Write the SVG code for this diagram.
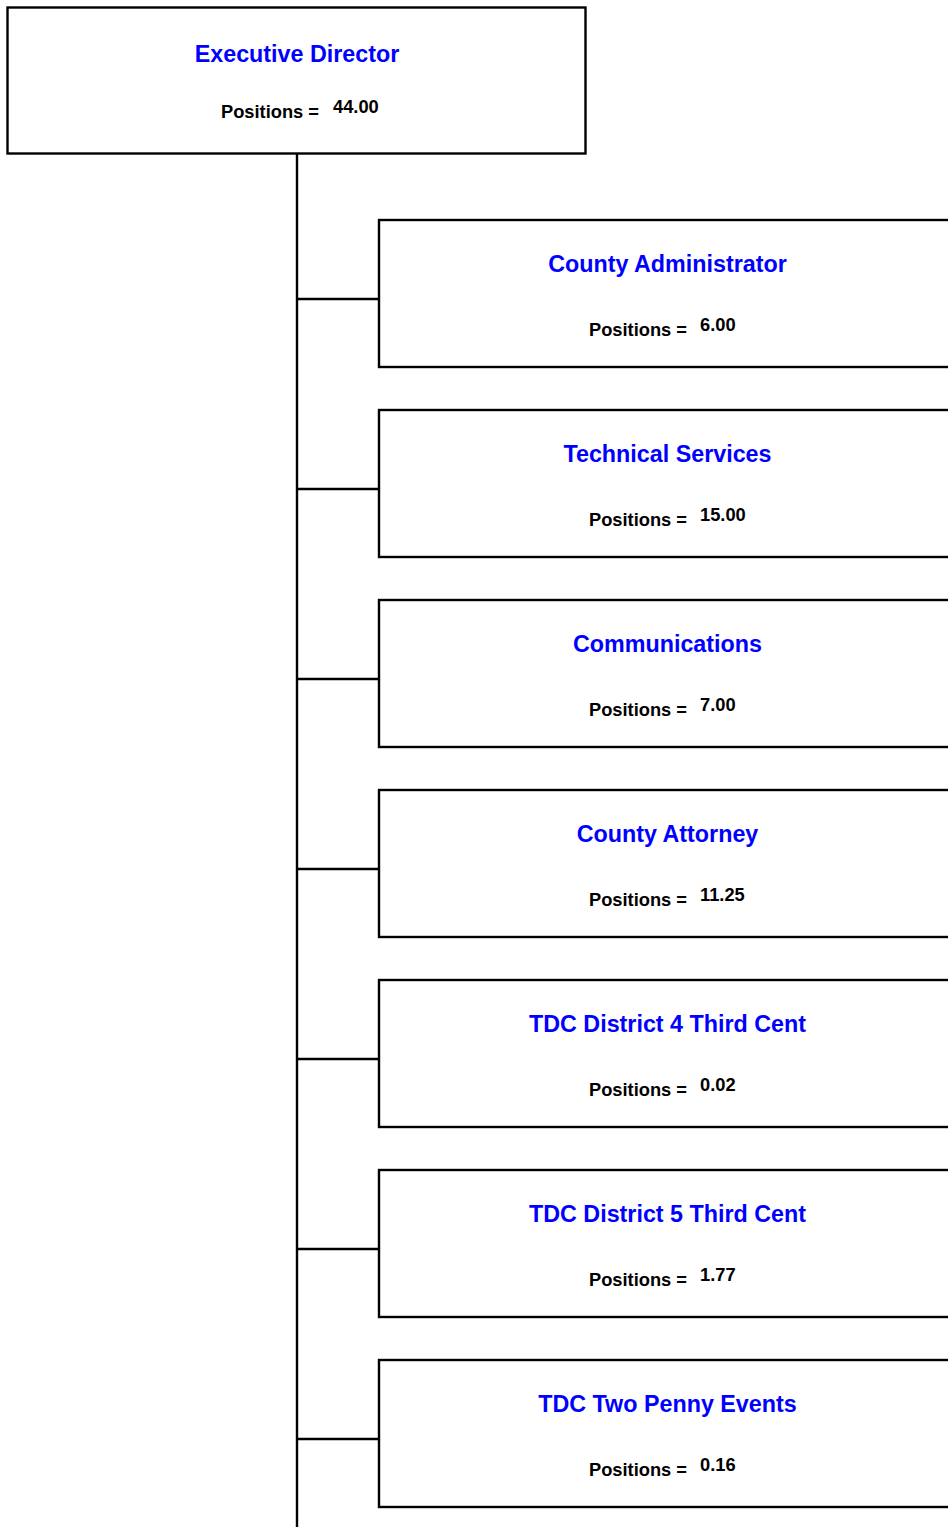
<svg xmlns="http://www.w3.org/2000/svg" width="948" height="1527" viewBox="0 0 948 1527">
<style>
.box{fill:#fff;stroke:#000;stroke-width:2.4}
.t{font-family:"Liberation Sans",Arial,sans-serif;font-weight:bold;font-size:23.3px;fill:#0000ff;text-anchor:middle}
.p{font-family:"Liberation Sans",Arial,sans-serif;font-weight:bold;font-size:18.3px;fill:#000}
.c{stroke:#000;stroke-width:2.4;fill:none}
</style>
<rect width="948" height="1527" fill="#fff"/>
<g id="connectors">
<line class="c" x1="297" y1="153" x2="297" y2="1527"/>
<line class="c" x1="297" y1="299" x2="381" y2="299"/>
<line class="c" x1="297" y1="489" x2="381" y2="489"/>
<line class="c" x1="297" y1="679" x2="381" y2="679"/>
<line class="c" x1="297" y1="869" x2="381" y2="869"/>
<line class="c" x1="297" y1="1059" x2="381" y2="1059"/>
<line class="c" x1="297" y1="1249" x2="381" y2="1249"/>
<line class="c" x1="297" y1="1439" x2="381" y2="1439"/>
</g>
<g id="exec">
<rect class="box" x="7.5" y="7.5" width="578" height="146"/>
<text class="t" x="297" y="61.5">Executive Director</text>
<text class="p" x="221" y="117.5">Positions =</text>
<text class="p" x="333" y="113">44.00</text>
</g>
<g id="n1">
<rect class="box" x="379" y="220" width="578" height="147"/>
<text class="t" x="667.5" y="272">County Administrator</text>
<text class="p" x="589" y="336">Positions =</text>
<text class="p" x="700" y="331">6.00</text>
</g>
<g id="n2">
<rect class="box" x="379" y="410" width="578" height="147"/>
<text class="t" x="667.5" y="462">Technical Services</text>
<text class="p" x="589" y="526">Positions =</text>
<text class="p" x="700" y="521">15.00</text>
</g>
<g id="n3">
<rect class="box" x="379" y="600" width="578" height="147"/>
<text class="t" x="667.5" y="652">Communications</text>
<text class="p" x="589" y="716">Positions =</text>
<text class="p" x="700" y="711">7.00</text>
</g>
<g id="n4">
<rect class="box" x="379" y="790" width="578" height="147"/>
<text class="t" x="667.5" y="842">County Attorney</text>
<text class="p" x="589" y="906">Positions =</text>
<text class="p" x="700" y="901">11.25</text>
</g>
<g id="n5">
<rect class="box" x="379" y="980" width="578" height="147"/>
<text class="t" x="667.5" y="1032">TDC District 4 Third Cent</text>
<text class="p" x="589" y="1096">Positions =</text>
<text class="p" x="700" y="1091">0.02</text>
</g>
<g id="n6">
<rect class="box" x="379" y="1170" width="578" height="147"/>
<text class="t" x="667.5" y="1222">TDC District 5 Third Cent</text>
<text class="p" x="589" y="1286">Positions =</text>
<text class="p" x="700" y="1281">1.77</text>
</g>
<g id="n7">
<rect class="box" x="379" y="1360" width="578" height="147"/>
<text class="t" x="667.5" y="1412">TDC Two Penny Events</text>
<text class="p" x="589" y="1476">Positions =</text>
<text class="p" x="700" y="1471">0.16</text>
</g>
</svg>
